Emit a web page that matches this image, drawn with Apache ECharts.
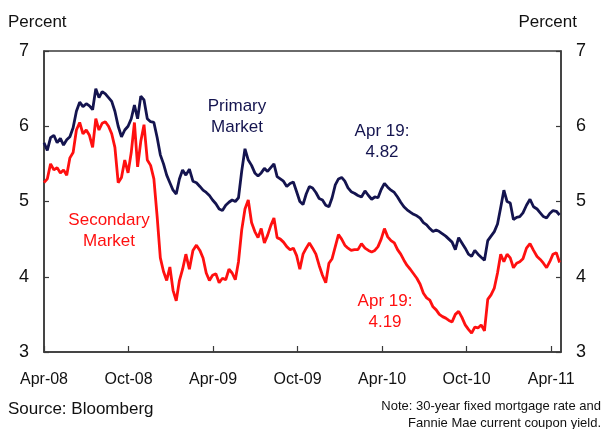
<!DOCTYPE html>
<html>
<head>
<meta charset="utf-8">
<script src="https://cdn.jsdelivr.net/npm/echarts@6/dist/echarts.min.js"></script>
<style>
  html, body { margin: 0; padding: 0; background: #fff; }
  #chart { width: 603px; height: 429px; }
</style>
</head>
<body>
<div id="chart"></div>
<script>
// weekly observations, starting 2008-04-01
const startDate = '2008-04-01';
const xLabels = ['Apr-08', 'Oct-08', 'Apr-09', 'Oct-09', 'Apr-10', 'Oct-10', 'Apr-11'];
const yTicks = [3, 4, 5, 6, 7];

const primary = [
  5.78, 5.68, 5.85, 5.88, 5.78, 5.84, 5.75, 5.82, 5.86, 5.98,
  6.20, 6.32, 6.26, 6.30, 6.27, 6.22, 6.50, 6.38, 6.46, 6.43,
  6.38, 6.33, 6.20, 6.00, 5.86, 5.95, 6.00, 6.10, 6.28, 6.10,
  6.40, 6.35, 6.10, 6.06, 6.05, 5.85, 5.62, 5.50, 5.35, 5.25,
  5.15, 5.10, 5.30, 5.42, 5.35, 5.43, 5.27, 5.25, 5.20, 5.15,
  5.12, 5.08, 5.02, 4.97, 4.90, 4.88, 4.95, 4.99, 5.02, 5.00,
  5.05, 5.40, 5.70, 5.55, 5.48, 5.38, 5.34, 5.38, 5.44, 5.40,
  5.45, 5.50, 5.33, 5.30, 5.27, 5.20, 5.24, 5.26, 5.13, 5.00,
  4.96, 5.10, 5.20, 5.18, 5.12, 5.04, 5.02, 4.95, 4.93, 5.05,
  5.22, 5.30, 5.32, 5.27, 5.18, 5.13, 5.11, 5.08, 5.06, 5.14,
  5.08, 5.03, 5.06, 5.05, 5.16, 5.24, 5.19, 5.15, 5.12, 5.06,
  4.99, 4.93, 4.89, 4.86, 4.83, 4.81, 4.78, 4.72, 4.69, 4.64,
  4.60, 4.62, 4.60, 4.57, 4.54, 4.50, 4.46, 4.36, 4.52, 4.45,
  4.38, 4.30, 4.27, 4.35, 4.30, 4.26, 4.22, 4.48, 4.54, 4.60,
  4.70, 4.92, 5.15, 5.00, 4.98, 4.76, 4.79, 4.80, 4.85, 4.95,
  5.03, 4.93, 4.90, 4.85, 4.80, 4.78, 4.84, 4.88, 4.87, 4.82
];

const secondary = [
  5.25, 5.30, 5.50, 5.42, 5.45, 5.38, 5.42, 5.35, 5.58, 5.65,
  5.95, 6.05, 5.90, 5.95, 5.88, 5.72, 6.10, 5.95, 6.04, 6.06,
  6.00, 5.90, 5.72, 5.25, 5.32, 5.55, 5.38, 5.65, 6.05, 5.46,
  5.80, 6.02, 5.55, 5.48, 5.30, 4.80, 4.25, 4.07, 3.95, 4.13,
  3.82, 3.68, 3.95, 4.10, 4.30, 4.10, 4.35, 4.42, 4.35, 4.25,
  4.05, 3.95, 4.02, 4.04, 3.92, 3.98, 3.96, 4.10, 4.05, 3.96,
  4.20, 4.62, 4.90, 5.02, 4.72, 4.60, 4.52, 4.64, 4.45, 4.55,
  4.68, 4.78, 4.52, 4.50, 4.46, 4.40, 4.36, 4.38, 4.28, 4.10,
  4.30, 4.38, 4.45, 4.38, 4.30, 4.15, 4.02, 3.92, 4.18, 4.24,
  4.40, 4.56, 4.50, 4.42, 4.38, 4.35, 4.36, 4.36, 4.44, 4.38,
  4.35, 4.33, 4.35, 4.40, 4.50, 4.64, 4.53, 4.48, 4.45, 4.36,
  4.30, 4.22, 4.15, 4.10, 4.04, 3.98, 3.90, 3.78, 3.72, 3.69,
  3.60, 3.56, 3.50, 3.47, 3.45, 3.42, 3.40, 3.50, 3.54, 3.46,
  3.36, 3.30, 3.25, 3.33, 3.32, 3.36, 3.28, 3.70, 3.76, 3.85,
  4.05, 4.30, 4.20, 4.30, 4.25, 4.12, 4.18, 4.20, 4.24, 4.38,
  4.44, 4.35, 4.27, 4.23, 4.18, 4.12, 4.20, 4.30, 4.32, 4.19
];

// months elapsed since Apr 2008 (fractional)
function monthPos(d) {
  const m = (d.getUTCFullYear() - 2008) * 12 + d.getUTCMonth() - 3;
  const dim = new Date(Date.UTC(d.getUTCFullYear(), d.getUTCMonth() + 1, 0)).getUTCDate();
  return m + (d.getUTCDate() - 1) / dim;
}
const t0 = Date.parse(startDate + 'T00:00:00Z');
const weekX = primary.map((_, i) => monthPos(new Date(t0 + i * 7 * 86400000)));

const navy = '#14144f';
const red = '#ff1010';
const font = 'Liberation Sans';
const ink = '#111';

const yAxisBase = {
  type: 'value', min: yTicks[0], max: yTicks[yTicks.length - 1], interval: 1,
  axisLine: { show: true, lineStyle: { color: '#3a3a3a', width: 1.5 } },
  axisTick: { show: true, inside: true, length: 5, lineStyle: { color: '#3a3a3a', width: 1.2 } },
  splitLine: { show: false },
  axisLabel: { color: ink, fontFamily: font, fontSize: 18, margin: 15 }
};

const chart = echarts.init(document.getElementById('chart'), null, { renderer: 'canvas' });
chart.setOption({
  animation: false,
  backgroundColor: '#fff',
  grid: { left: 44, right: 42, top: 51, bottom: 77, show: true, borderColor: '#3a3a3a', borderWidth: 1.5 },
  xAxis: {
    type: 'value', min: 0, max: 36.7, interval: 6,
    axisLine: { show: true, lineStyle: { color: '#3a3a3a', width: 1.5 } },
    axisTick: { show: true, inside: true, length: 6, lineStyle: { color: '#3a3a3a', width: 1.2 } },
    splitLine: { show: false },
    axisLabel: {
      color: ink, fontFamily: font, fontSize: 16, margin: 20, showMaxLabel: false,
      formatter: v => (Math.abs(v / 6 - Math.round(v / 6)) < 1e-6 ? xLabels[Math.round(v / 6)] : '')
    }
  },
  yAxis: [
    Object.assign({}, yAxisBase, { position: 'left' }),
    Object.assign({}, yAxisBase, { position: 'right' })
  ],
  graphic: [
    { type: 'text', x: 8, y: 14, style: { text: 'Percent', fill: ink, font: '17px "Liberation Sans"' } },
    { type: 'text', x: 577, y: 14, style: { text: 'Percent', fill: ink, font: '17px "Liberation Sans"', align: 'right' } },
    { type: 'text', x: 8, y: 401, style: { text: 'Source: Bloomberg', fill: ink, font: '17px "Liberation Sans"' } },
    { type: 'text', x: 601, y: 398, style: { text: 'Note: 30-year fixed mortgage rate and\nFannie Mae current coupon yield.', fill: ink, font: '13px "Liberation Sans"', align: 'right', lineHeight: 17 } },
    { type: 'text', x: 237, y: 96, style: { text: 'Primary\nMarket', fill: navy, font: '17px "Liberation Sans"', align: 'center', lineHeight: 21 } },
    { type: 'text', x: 382, y: 121, style: { text: 'Apr 19:\n4.82', fill: navy, font: '17px "Liberation Sans"', align: 'center', lineHeight: 21 } },
    { type: 'text', x: 109, y: 210, style: { text: 'Secondary\nMarket', fill: red, font: '17px "Liberation Sans"', align: 'center', lineHeight: 21 } },
    { type: 'text', x: 385, y: 291, style: { text: 'Apr 19:\n4.19', fill: red, font: '17px "Liberation Sans"', align: 'center', lineHeight: 21 } }
  ],
  series: [
    {
      name: 'Primary Market', type: 'line', showSymbol: false, yAxisIndex: 0,
      lineStyle: { color: navy, width: 2.8 },
      data: primary.map((v, i) => [weekX[i], v])
    },
    {
      name: 'Secondary Market', type: 'line', showSymbol: false, yAxisIndex: 0,
      lineStyle: { color: red, width: 2.8 },
      data: secondary.map((v, i) => [weekX[i], v])
    }
  ]
});
</script>
</body>
</html>
